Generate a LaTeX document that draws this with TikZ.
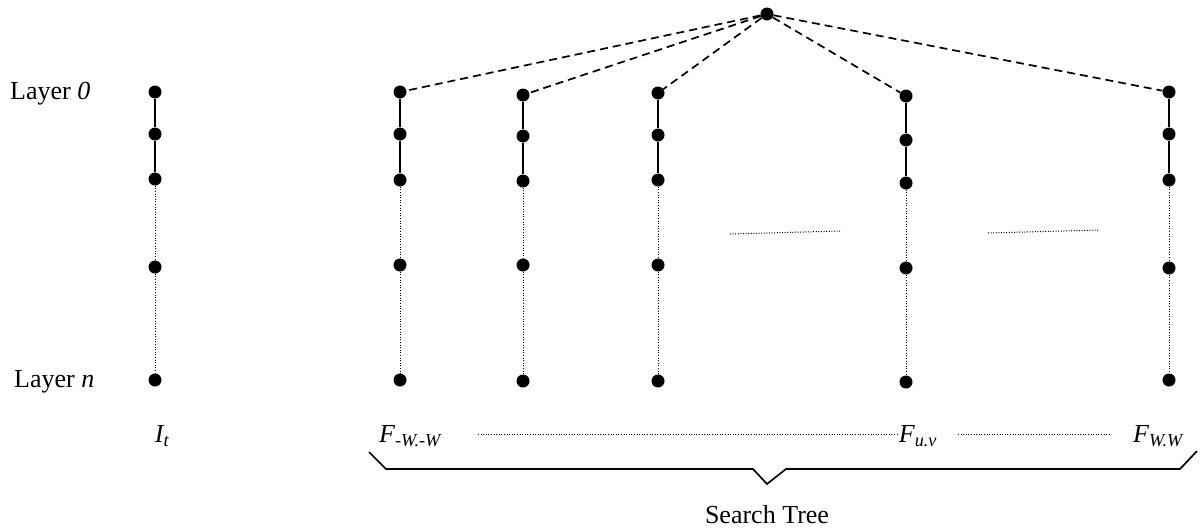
\documentclass[tikz,border=0pt]{standalone}
\usepackage{fontspec}
\setmainfont{Liberation Serif}
\begin{document}
\begin{tikzpicture}[x=1pt,y=-1pt,
  dot/.style={circle,fill=black,inner sep=0pt,minimum size=13pt},
  solidln/.style={line width=1.7pt},
  dotln/.style={line width=1pt,dash pattern=on 1pt off 1.6pt},
  dashln/.style={line width=1.7pt,dash pattern=on 8pt off 5pt},
  lbl/.style={font=\fontsize{26}{30}\selectfont,inner sep=0pt}]
\useasboundingbox (0,0) rectangle (1204,531);
\node[dot] (top) at (767,14) {};
\foreach \c/\x/\a/\b/\cc/\d/\e in {i/155/92/134/179/267/380, a/400/92/134/180/265/380, b/523/95/136/181/265/381, c/658/93/135/180/265/381, d/906/96/140/183/268/382, e/1169/92/134/180/268/380}{
  \node[dot] (\c1) at (\x,\a) {};
  \node[dot] (\c2) at (\x,\b) {};
  \node[dot] (\c3) at (\x,\cc) {};
  \node[dot] (\c4) at (\x,\d) {};
  \node[dot] (\c5) at (\x,\e) {};
  \draw[solidln] (\c1) -- (\c2) -- (\c3);
  \draw[dotln] (\c3) -- (\c4) -- (\c5);
}
\foreach \c in {a,b,c,d,e}{\draw[dashln] (top) -- (\c1);}
\coordinate (h1) at (730,234); \coordinate (h2) at (840,231);
\coordinate (h3) at (988,233); \coordinate (h4) at (1099,230);
\draw[dotln] (h1) -- (h2);
\draw[dotln] (h3) -- (h4);
\node[lbl,anchor=west] (l0) at (10,94) {Layer \textit{0}};
\node[lbl,anchor=west] (ln) at (14,382) {Layer \textit{n}};
\node[lbl] (it) at (162,436) {\textit{I\textsubscript{t}}};
\node[lbl] (f1) at (410,436) {\textit{F\textsubscript{-W.-W}}};
\node[lbl] (f2) at (918,436) {\textit{F\textsubscript{u.v}}};
\node[lbl] (f3) at (1158,436) {\textit{F\textsubscript{W.W}}};
\coordinate (d1) at (478,434); \coordinate (d2) at (898,434);
\coordinate (d3) at (958,434); \coordinate (d4) at (1110,434);
\draw[dotln] (d1) -- (d2);
\draw[dotln] (d3) -- (d4);
\coordinate (b1) at (369,452); \coordinate (b2) at (386,469);
\coordinate (b3) at (753,469); \coordinate (b4) at (767,484);
\coordinate (b5) at (786,469); \coordinate (b6) at (1180,469);
\coordinate (b7) at (1197,451);
\draw[line width=1.7pt] (b1) -- (b2) -- (b3) -- (b4) -- (b5) -- (b6) -- (b7);
\node[lbl] (st) at (767,515) {Search Tree};
\end{tikzpicture}
\end{document}
